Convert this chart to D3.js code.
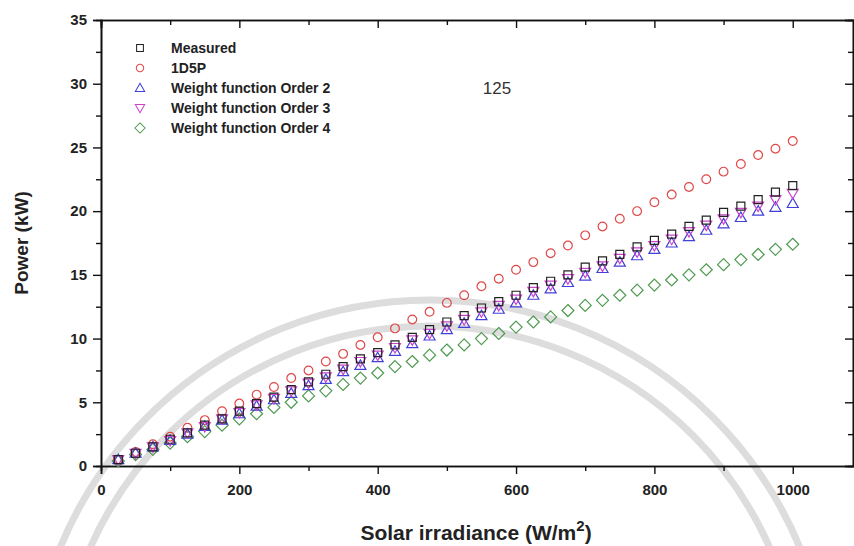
<!DOCTYPE html>
<html lang="en">
<head>
    <meta charset="UTF-8">
    <title>Power vs solar irradiance</title>
    <style>
        body{ margin : 0; background-color: white; }
        svg{ display : block; }
        text{ font-family : "Liberation Sans", Arial, sans-serif; }
    </style>
</head>
<body>
    <script src="https://cdn.jsdelivr.net/npm/d3@7"></script>
    <script>
        // irradiance steps (W/m2)
        const irradiance = [25,50,75,100,125,150,175,200,225,250,275,300,325,350,375,400,425,450,475,500,
                            525,550,575,600,625,650,675,700,725,750,775,800,825,850,875,900,925,950,975,1000];

        // power (kW)
        const measured = [0.5,1.0,1.5,2.1,2.6,3.2,3.7,4.3,4.9,5.4,6.0,6.6,7.2,7.8,8.4,8.9,9.5,10.1,10.7,11.3,
                          11.8,12.4,12.9,13.4,14.0,14.5,15.0,15.6,16.1,16.6,17.2,17.7,18.2,18.8,19.3,19.9,20.4,20.9,21.5,22.0];
        const oneD5P   = [0.5,1.1,1.7,2.3,3.0,3.6,4.3,4.9,5.6,6.2,6.9,7.5,8.2,8.8,9.5,10.1,10.8,11.5,12.1,12.8,
                          13.4,14.1,14.7,15.4,16.0,16.7,17.3,18.1,18.8,19.4,20.0,20.7,21.3,21.9,22.5,23.1,23.7,24.4,24.9,25.5];
        const order2   = [0.5,1.0,1.5,2.0,2.5,3.1,3.6,4.1,4.7,5.2,5.7,6.3,6.8,7.4,7.9,8.5,9.0,9.6,10.2,10.7,
                          11.2,11.8,12.3,12.8,13.4,13.9,14.4,14.9,15.5,16.0,16.5,17.0,17.5,18.0,18.5,19.0,19.5,20.0,20.3,20.6];
        const order3   = [0.5,1.0,1.5,2.0,2.6,3.1,3.7,4.2,4.8,5.3,5.9,6.5,7.0,7.6,8.2,8.7,9.3,9.9,10.4,11.0,
                          11.5,12.1,12.6,13.1,13.7,14.2,14.7,15.2,15.7,16.3,16.8,17.3,17.8,18.4,18.9,19.4,19.9,20.4,20.9,21.4];
        const order4   = [0.4,0.9,1.3,1.8,2.3,2.7,3.2,3.7,4.1,4.6,5.0,5.5,5.9,6.4,6.9,7.3,7.8,8.2,8.7,9.1,
                          9.5,10.0,10.4,10.9,11.3,11.7,12.2,12.6,13.0,13.4,13.8,14.2,14.6,15.0,15.4,15.8,16.2,16.6,17.0,17.4];

        const seriesNames = ['Measured','1D5P','Weight function Order 2','Weight function Order 3','Weight function Order 4'];
        const xTicks = [0,200,400,600,800,1000];
        const yTicks = [0,5,10,15,20,25,30,35];

        const width = 854, height = 546;
        const gauche = 101, droite = 855, haut = 20, bas = 466;

        let canevas = d3.select('body')
            .append('svg')
                .attr('width',width)
                .attr('height',height)

        // watermark arcs (background of the scanned page)
        let filigrane = canevas.append('g')
        filigrane.append('ellipse')
            .attr('cx',430).attr('cy',700).attr('rx',400).attr('ry',400)
            .attr('fill','none').attr('stroke','#dddddd').attr('stroke-width',7)
        filigrane.append('ellipse')
            .attr('cx',430).attr('cy',700).attr('rx',372).attr('ry',374)
            .attr('fill','none').attr('stroke','#dddddd').attr('stroke-width',7)

        let x = d3.scaleLinear().domain([0,1090]).range([gauche,droite])
        let y = d3.scaleLinear().domain([0,35]).range([bas,haut])

        // axes : bottom and left outward, top and right inward
        canevas.append('g')
            .attr('transform',`translate(0,${bas})`)
            .call(d3.axisBottom(x).tickValues(xTicks).tickSize(8).tickPadding(10).tickFormat(d3.format('d')))
        canevas.append('g')
            .attr('transform',`translate(0,${bas})`)
            .call(d3.axisBottom(x).tickValues([100,300,500,700,900]).tickSize(5).tickFormat(''))

        canevas.append('g')
            .attr('transform',`translate(${gauche},0)`)
            .call(d3.axisLeft(y).tickValues(yTicks).tickSize(8).tickPadding(6))
        canevas.append('g')
            .attr('transform',`translate(${gauche},0)`)
            .call(d3.axisLeft(y).tickValues([2.5,7.5,12.5,17.5,22.5,27.5,32.5]).tickSize(5).tickFormat(''))

        canevas.append('g')
            .attr('transform',`translate(0,${haut})`)
            .call(d3.axisTop(x).tickValues(xTicks).tickSize(-8).tickFormat(''))
        canevas.append('g')
            .attr('transform',`translate(0,${haut})`)
            .call(d3.axisTop(x).tickValues([100,300,500,700,900]).tickSize(-5).tickFormat(''))

        canevas.append('g')
            .attr('transform',`translate(${droite-2},0)`)
            .call(d3.axisRight(y).tickValues(yTicks).tickSize(-8).tickFormat(''))
        canevas.append('g')
            .attr('transform',`translate(${droite-2},0)`)
            .call(d3.axisRight(y).tickValues([2.5,7.5,12.5,17.5,22.5,27.5,32.5]).tickSize(-5).tickFormat(''))

        canevas.selectAll('.domain').attr('stroke','#111').attr('stroke-width',1.6)
        canevas.selectAll('.tick line').attr('stroke','#111').attr('stroke-width',1.4)
        canevas.selectAll('.tick text')
            .style('font-size','15px')
            .style('font-weight','bold')
            .attr('fill','#222')

        // markers
        function formeMarqueur(forme){
            if(forme === 'carre'){return 'M-4,-4H4V4H-4Z'}
            else if(forme === 'rond'){return d3.symbol(d3.symbolCircle,60)()}
            else if(forme === 'haut'){return 'M0,-5.5L5.5,4L-5.5,4Z'}
            else if(forme === 'bas'){return 'M0,5.5L5.5,-4L-5.5,-4Z'}
            else if(forme === 'losange'){return 'M0,-6L6,0L0,6L-6,0Z'}
        }

        let series = [
            {nom : seriesNames[4], valeurs : order4,   forme : 'losange', couleur : '#4f9a50'},
            {nom : seriesNames[1], valeurs : oneD5P,   forme : 'rond',    couleur : '#e04848'},
            {nom : seriesNames[2], valeurs : order2,   forme : 'haut',    couleur : '#4040d8'},
            {nom : seriesNames[3], valeurs : order3,   forme : 'bas',     couleur : '#cc44cc'},
            {nom : seriesNames[0], valeurs : measured, forme : 'carre',   couleur : '#222222'}
        ]

        series.forEach(s => {
            canevas.append('g').selectAll('path')
                .data(irradiance.map((v,i) => [v, s.valeurs[i]]))
                .enter()
                .append('path')
                    .attr('d',formeMarqueur(s.forme))
                    .attr('transform',d => `translate(${x(d[0])},${y(d[1])})`)
                    .attr('fill','none')
                    .attr('stroke',s.couleur)
                    .attr('stroke-width',1.2)
        })

        // legend
        let legendeOrdre = [4,1,2,3,0]
        let legende = canevas.append('g')
        legendeOrdre.forEach((k,i) => {
            let s = series[k]
            legende.append('path')
                .attr('d',formeMarqueur(s.forme))
                .attr('transform',`translate(140,${48 + i*20}) scale(0.85)`)
                .attr('fill','none')
                .attr('stroke',s.couleur)
                .attr('stroke-width',1.2)
            legende.append('text')
                .attr('x',171)
                .attr('y',48 + i*20)
                .attr('dy','0.35em')
                .text(s.nom)
                .style('font-size','14px')
                .style('font-weight','bold')
                .style('fill','#222')
        })

        // page number
        canevas.append('text')
            .attr('x',497).attr('y',94)
            .attr('text-anchor','middle')
            .text('125')
            .style('font-size','17px')
            .style('fill','#333')

        // axis titles
        canevas.append('text')
            .attr('transform','translate(28,243) rotate(-90)')
            .attr('text-anchor','middle')
            .text('Power (kW)')
            .style('font-size','19px')
            .style('font-weight','bold')
            .style('fill','#222')

        let titreX = canevas.append('text')
            .attr('x',476).attr('y',540)
            .attr('text-anchor','middle')
            .style('font-size','21px')
            .style('font-weight','bold')
            .style('fill','#222')
        titreX.append('tspan').text('Solar irradiance (W/m')
        titreX.append('tspan').attr('dy',-9).style('font-size','15px').text('2')
        titreX.append('tspan').attr('dy',9).text(')')
    </script>
</body>
</html>
